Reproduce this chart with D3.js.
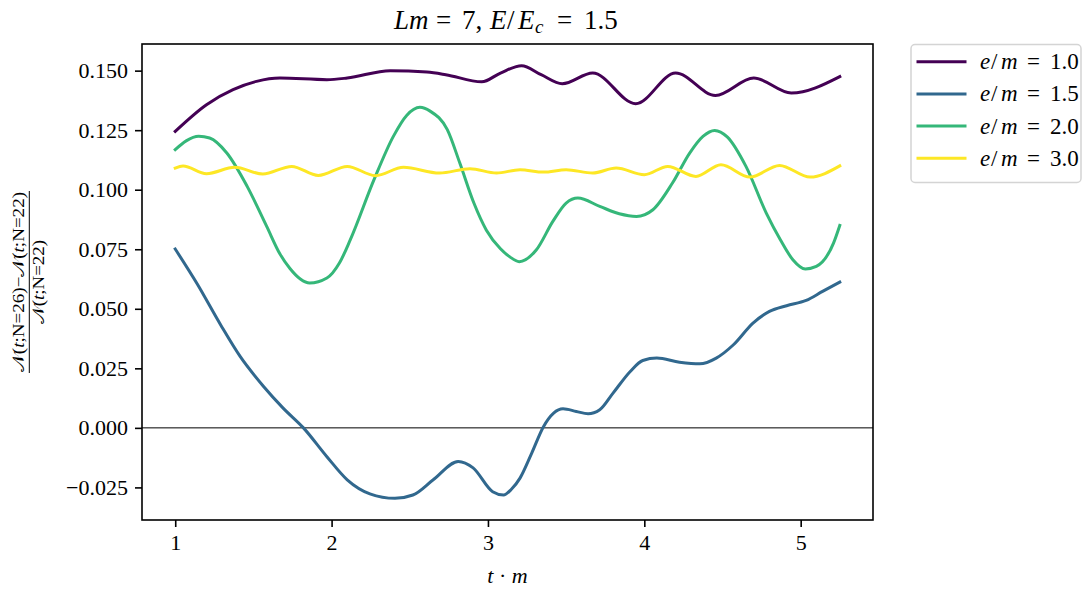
<!DOCTYPE html>
<html><head><meta charset="utf-8">
<script src="https://cdn.jsdelivr.net/npm/d3@7"></script>
<style>body{margin:0;background:#fff} svg{display:block}</style>
</head><body>
<svg id="c" width="1083" height="590"></svg>
<script>
// ---- data ----
const seriesLabels = ["1.0", "1.5", "2.0", "3.0"];

const t_e10 = [1.00, 1.20, 1.37, 1.52, 1.67, 1.97, 2.10, 2.375, 2.61, 2.73, 2.96, 3.08, 3.215, 3.34, 3.475, 3.67, 3.945, 4.20, 4.455, 4.70, 4.94, 5.25];
const v_e10 = [0.1245, 0.1357, 0.1420, 0.1455, 0.1469, 0.1462, 0.1469, 0.1500, 0.1494, 0.1483, 0.1453, 0.1490, 0.1521, 0.1483, 0.1445, 0.1490, 0.1361, 0.1490, 0.1396, 0.1469, 0.1406, 0.1475];

const t_e15 = [1.00, 1.14, 1.29, 1.415, 1.565, 1.69, 1.82, 1.97, 2.10, 2.245, 2.405, 2.52, 2.65, 2.81, 2.905, 3.03, 3.10, 3.15, 3.205, 3.28, 3.355, 3.42, 3.48, 3.565, 3.64, 3.715, 3.80, 3.91, 3.99, 4.08, 4.225, 4.355, 4.46, 4.57, 4.695, 4.80, 4.91, 5.035, 5.14, 5.25];
const v_e15 = [0.0751, 0.0605, 0.0433, 0.0300, 0.0174, 0.0083, 0.0000, -0.0121, -0.0218, -0.0277, -0.0296, -0.0282, -0.0218, -0.0141, -0.0168, -0.0268, -0.0282, -0.0258, -0.0211, -0.0106, 0.0005, 0.0062, 0.0080, 0.0069, 0.0059, 0.0076, 0.0146, 0.0237, 0.0283, 0.0293, 0.0276, 0.0269, 0.0293, 0.0349, 0.0440, 0.0489, 0.0513, 0.0535, 0.0573, 0.0612];

const t_e20 = [1.00, 1.07, 1.15, 1.22, 1.33, 1.46, 1.585, 1.67, 1.735, 1.80, 1.86, 1.97, 2.05, 2.12, 2.27, 2.395, 2.48, 2.565, 2.63, 2.74, 2.82, 2.91, 2.99, 3.08, 3.14, 3.20, 3.31, 3.415, 3.50, 3.575, 3.715, 3.84, 3.95, 4.055, 4.18, 4.29, 4.375, 4.45, 4.53, 4.65, 4.78, 4.87, 4.95, 5.03, 5.10, 5.21, 5.25];
const v_e20 = [0.1168, 0.1205, 0.1224, 0.1217, 0.1154, 0.1014, 0.0846, 0.0730, 0.0668, 0.0625, 0.0608, 0.0629, 0.0692, 0.0790, 0.1040, 0.1224, 0.1312, 0.1346, 0.1330, 0.1252, 0.1112, 0.0944, 0.0830, 0.0752, 0.0718, 0.0698, 0.0748, 0.0867, 0.0944, 0.0965, 0.0930, 0.0899, 0.0888, 0.0916, 0.1028, 0.1154, 0.1224, 0.1249, 0.1222, 0.1098, 0.0902, 0.0790, 0.0706, 0.0667, 0.0678, 0.0776, 0.0850];

const t_e30 = [1.00, 1.05, 1.20, 1.38, 1.56, 1.745, 1.915, 2.10, 2.28, 2.46, 2.69, 2.885, 3.055, 3.205, 3.355, 3.50, 3.67, 3.82, 4.00, 4.15, 4.33, 4.49, 4.675, 4.865, 5.06, 5.25];
const v_e30 = [0.1091, 0.1100, 0.1067, 0.1094, 0.1066, 0.1098, 0.1060, 0.1098, 0.1059, 0.1094, 0.1070, 0.1088, 0.1070, 0.1084, 0.1074, 0.1084, 0.1070, 0.1091, 0.1063, 0.1098, 0.1056, 0.1105, 0.1053, 0.1102, 0.1053, 0.1100];

const xTicks = [1, 2, 3, 4, 5];
const yTicks = [-0.025, 0.000, 0.025, 0.050, 0.075, 0.100, 0.125, 0.150];

// ---- styles ----
const colors = ["#440154", "#31688e", "#35b779", "#fde725"];
const FONT = "'Liberation Serif', 'Times New Roman', serif";

const series = [
  {label: seriesLabels[0], t: t_e10, v: v_e10},
  {label: seriesLabels[1], t: t_e15, v: v_e15},
  {label: seriesLabels[2], t: t_e20, v: v_e20},
  {label: seriesLabels[3], t: t_e30, v: v_e30}
];

const L = 142, R = 873, T = 44, B = 520;
const svg = d3.select("#c");

const allT = series.flatMap(s => s.t), allV = series.flatMap(s => s.v);
const [tmin, tmax] = d3.extent(allT), [vmin, vmax] = d3.extent(allV);
const tp = (tmax - tmin) * 0.05, vp = (vmax - vmin) * 0.05;
const x = d3.scaleLinear().domain([tmin - tp, tmax + tp]).range([L, R]);
const y = d3.scaleLinear().domain([vmin - vp, vmax + vp]).range([B, T]);

// zero line
svg.append("line").attr("x1", L).attr("x2", R).attr("y1", y(0)).attr("y2", y(0))
  .attr("stroke", "#000").attr("stroke-width", 1);

// curves
const line = d3.line().x(d => x(d[0])).y(d => y(d[1])).curve(d3.curveMonotoneX);
series.forEach((s, i) => {
  svg.append("path").datum(s.t.map((t, k) => [t, s.v[k]]))
    .attr("d", line).attr("fill", "none").attr("stroke", colors[i])
    .attr("stroke-width", 3).attr("stroke-linejoin", "round").attr("stroke-linecap", "square");
});

// axes
const xAxis = svg.append("g").attr("transform", `translate(0,${B})`)
  .call(d3.axisBottom(x).tickValues(xTicks).tickFormat(d3.format("d")).tickSize(7).tickPadding(7));
const yAxis = svg.append("g").attr("transform", `translate(${L},0)`)
  .call(d3.axisLeft(y).tickValues(yTicks).tickFormat(d3.format(".3f")).tickSize(7).tickPadding(7));
[xAxis, yAxis].forEach(g => {
  g.select(".domain").remove();
  g.selectAll(".tick line").attr("stroke", "#000").attr("stroke-width", 1.6);
  g.selectAll(".tick text").attr("font-family", FONT).attr("font-size", 22).attr("fill", "#000");
});

// frame
svg.append("rect").attr("x", L).attr("y", T).attr("width", R - L).attr("height", B - T)
  .attr("fill", "none").attr("stroke", "#000").attr("stroke-width", 1.6);

// math-text helper
function mathText(sel, parts) {
  parts.forEach(p => {
    const ts = sel.append("tspan").text(p.s);
    if (p.i) ts.attr("font-style", "italic");
    if (p.x !== undefined) ts.attr("x", p.x);
    if (p.sub) ts.attr("font-size", p.sub).attr("dy", p.dy);
    if (p.back) ts.attr("dy", p.back);
  });
  return sel;
}

// title
mathText(svg.append("text").attr("y", 28.5)
  .attr("font-family", FONT).attr("font-size", 27).attr("fill", "#000"),
  [{s: "Lm", i: 1, x: 394}, {s: "=", x: 436}, {s: "7,", x: 462}, {s: "E", i: 1, x: 490},
   {s: "/", x: 507}, {s: "E", i: 1, x: 518},
   {s: "c", i: 1, sub: 19, dy: 4, x: 535}, {s: "=", back: -4, x: 557}, {s: "1.5", x: 584}]);

// x label
mathText(svg.append("text").attr("x", (L + R) / 2).attr("y", 583).attr("text-anchor", "middle")
  .attr("font-family", FONT).attr("font-size", 22).attr("fill", "#000"),
  [{s: "t", i: 1}, {s: " · "}, {s: "m", i: 1}]);

// y label (fraction)
const yl = svg.append("g").attr("transform", `translate(29.3,${(T + B) / 2}) rotate(-90)`);
const NN = "𝒩";
mathText(yl.append("text").attr("x", 0).attr("y", -5.8).attr("text-anchor", "middle")
  .attr("font-family", FONT).attr("font-size", 16).attr("textLength", 180).attr("lengthAdjust", "spacingAndGlyphs"),
  [{s: NN}, {s: "("}, {s: "t", i: 1}, {s: ";N=26)−"}, {s: NN}, {s: "("}, {s: "t", i: 1}, {s: ";N=22)"}]);
yl.append("line").attr("x1", -91).attr("x2", 91).attr("y1", 0).attr("y2", 0)
  .attr("stroke", "#000").attr("stroke-width", 1);
mathText(yl.append("text").attr("x", 0).attr("y", 14.5).attr("text-anchor", "middle")
  .attr("font-family", FONT).attr("font-size", 16).attr("textLength", 84).attr("lengthAdjust", "spacingAndGlyphs"),
  [{s: NN}, {s: "("}, {s: "t", i: 1}, {s: ";N=22)"}]);

// legend
const lg = svg.append("g");
lg.append("rect").attr("x", 911).attr("y", 44.5).attr("width", 170).attr("height", 138)
  .attr("rx", 4).attr("fill", "#fff").attr("stroke", "#d4d4d4").attr("stroke-width", 1.5);
series.forEach((s, i) => {
  const ry = 61.7 + i * 32.2;
  lg.append("line").attr("x1", 918).attr("x2", 965).attr("y1", ry).attr("y2", ry)
    .attr("stroke", colors[i]).attr("stroke-width", 3).attr("stroke-linecap", "square");
  mathText(lg.append("text").attr("y", ry + 7.5)
    .attr("font-family", FONT).attr("font-size", 23).attr("fill", "#000"),
    [{s: "e", i: 1, x: 980}, {s: "/", x: 991}, {s: "m", i: 1, x: 1001},
     {s: "=", x: 1027}, {s: s.label, x: 1050}]);
});
</script>
</body></html>
